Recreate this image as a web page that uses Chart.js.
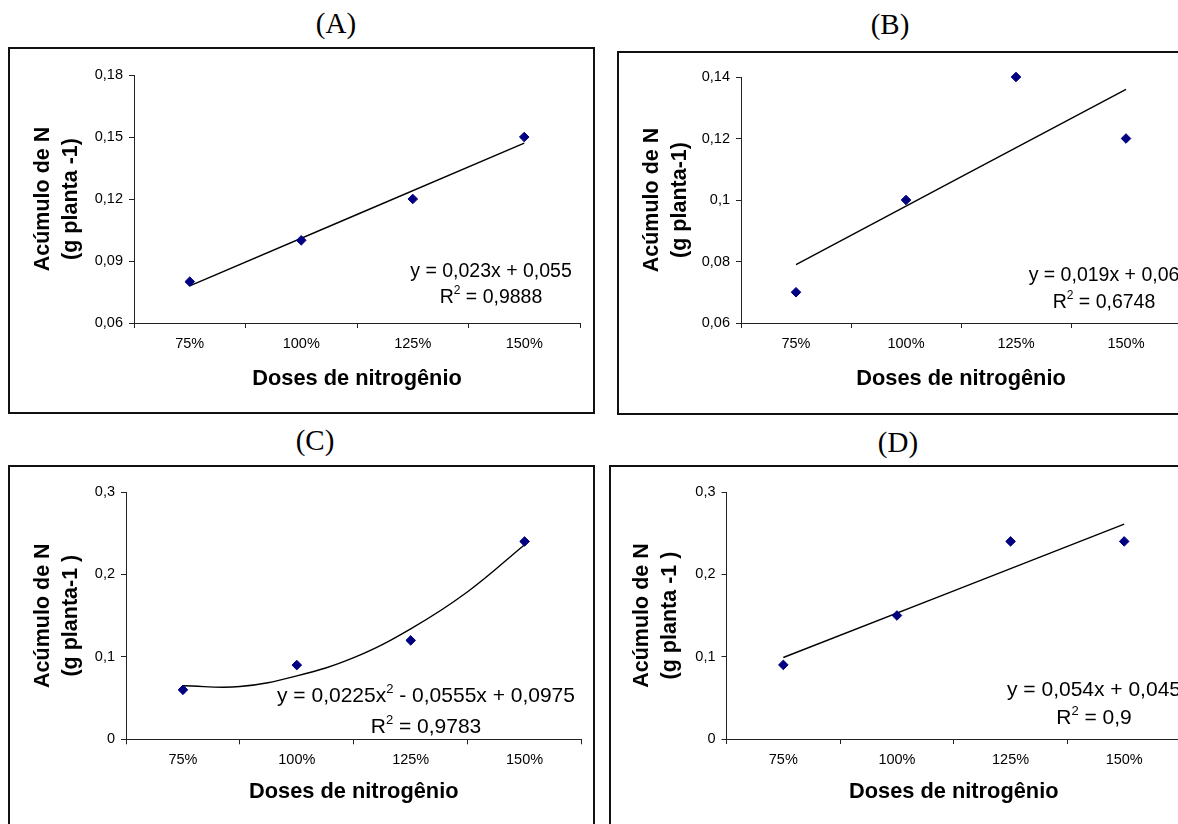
<!DOCTYPE html>
<html>
<head>
<meta charset="utf-8">
<script src="https://cdn.jsdelivr.net/npm/chart.js@4.4.1/dist/chart.umd.min.js"></script>
<style>
  body { margin: 0; width: 1178px; height: 824px; overflow: hidden; background: #fff; position: relative; }
  .frame { position: absolute; border: 2px solid #111; box-sizing: border-box; }
  .plot { position: absolute; }
  .label { position: absolute; width: 200px; text-align: center; font: 29px/29px "Liberation Serif", "Times New Roman", serif; color: #000; }
</style>
</head>
<body>

<div class="label" style="left:236px; top:9px;">(A)</div>
<div class="label" style="left:790px; top:10px;">(B)</div>
<div class="label" style="left:215px; top:426px;">(C)</div>
<div class="label" style="left:798px; top:428px;">(D)</div>

<div class="frame" style="left:8px; top:47px; width:587px; height:367px;"></div>
<div class="frame" style="left:617px; top:51px; width:600px; height:364px;"></div>
<div class="frame" style="left:8px; top:465px; width:587px; height:400px;"></div>
<div class="frame" style="left:609px; top:465px; width:600px; height:400px;"></div>

<div class="plot" style="left:8px; top:47px; width:586px; height:366px;"><canvas id="chartA"></canvas></div>
<div class="plot" style="left:617px; top:51px; width:580px; height:363px;"><canvas id="chartB"></canvas></div>
<div class="plot" style="left:8px; top:465px; width:586px; height:360px;"><canvas id="chartC"></canvas></div>
<div class="plot" style="left:609px; top:465px; width:586px; height:360px;"><canvas id="chartD"></canvas></div>

<script>
// Acúmulo de N por dose de nitrogênio - quatro painéis (A-D)
const doses = ['75%', '100%', '125%', '150%'];

const valuesA = [0.08, 0.10, 0.12, 0.15];
const valuesB = [0.07, 0.10, 0.14, 0.12];
const valuesC = [0.06, 0.09, 0.12, 0.24];
const valuesD = [0.09, 0.15, 0.24, 0.24];

// linhas de tendência (posição da categoria 1..4)
const trendXLinear = [1, 4];
const trendA = [0.078, 0.147];
const trendB = [0.079, 0.136];
const trendXC = [1, 1.5, 2, 2.5, 3, 3.5, 4];
const trendC = [0.065, 0.064, 0.077, 0.099, 0.134, 0.179, 0.236];
const trendD = [0.099, 0.261];

const yTicksA = ['0,06', '0,09', '0,12', '0,15', '0,18'];
const yTicksB = ['0,06', '0,08', '0,1', '0,12', '0,14'];
const yTicksC = ['0', '0,1', '0,2', '0,3'];
const yTicksD = ['0', '0,1', '0,2', '0,3'];

const yTitleA = ['Acúmulo de N', '(g planta -1)'];
const yTitleB = ['Acúmulo de N', '(g planta-1)'];
const yTitleC = ['Acúmulo de N', '(g planta-1 )'];
const yTitleD = ['Acúmulo de N', '(g planta -1 )'];
const xTitle = 'Doses de nitrogênio';

const equationA = ['y = 0,023x + 0,055', 'R^2 = 0,9888'];
const equationB = ['y = 0,019x + 0,06', 'R^2 = 0,6748'];
const equationC = ['y = 0,0225x^2 - 0,0555x + 0,0975', 'R^2 = 0,9783'];
const equationD = ['y = 0,054x + 0,045', 'R^2 = 0,9'];

const FONT = '"Liberation Sans", Arial, Helvetica, sans-serif';
Chart.defaults.font.family = FONT;
Chart.defaults.color = '#000';

const toNum = s => parseFloat(s.replace(',', '.'));

// text of the trendline equation, with ^2 as superscript
const equationPlugin = {
  id: 'equation',
  afterDraw(chart, args, opts) {
    const ctx = chart.ctx;
    const size = opts.size;
    const normal = size + 'px ' + FONT;
    const small = Math.round(size * 0.6) + 'px ' + FONT;
    ctx.save();
    ctx.fillStyle = '#000';
    ctx.textBaseline = 'alphabetic';
    ctx.textAlign = 'left';
    opts.lines.forEach((line, i) => {
      const parts = line.split(/\^(\d)/);
      let total = 0;
      parts.forEach((p, k) => {
        ctx.font = k % 2 ? small : normal;
        total += ctx.measureText(p).width;
      });
      let x = opts.cx - total / 2;
      const y = opts.ys[i];
      parts.forEach((p, k) => {
        ctx.font = k % 2 ? small : normal;
        ctx.fillText(p, x, k % 2 ? y - size * 0.45 : y);
        x += ctx.measureText(p).width;
      });
    });
    ctx.restore();
  }
};

function makeChart(id, values, trendX, trendY, yTicks, yTitle, equation, lay) {
  const yVals = yTicks.map(toNum);
  const xTickVals = [0.5, 1, 1.5, 2, 2.5, 3, 3.5, 4, 4.5];

  new Chart(document.getElementById(id), {
    type: 'scatter',
    data: {
      datasets: [{
        data: values.map((v, i) => ({ x: i + 1, y: v })),
        pointStyle: 'rectRot',
        pointRadius: 4.8,
        backgroundColor: '#000080',
        borderColor: '#000080',
        borderWidth: 1,
        clip: false
      }, {
        data: trendX.map((x, i) => ({ x: x, y: trendY[i] })),
        showLine: true,
        pointRadius: 0,
        borderColor: '#000',
        borderWidth: 1.4,
        tension: 0.4,
        fill: false
      }]
    },
    options: {
      responsive: true,
      maintainAspectRatio: false,
      animation: false,
      layout: { padding: { left: 0, top: lay.top, right: lay.right, bottom: 0 } },
      plugins: {
        legend: { display: false },
        tooltip: { enabled: false },
        equation: { lines: equation, cx: lay.eqX, ys: lay.eqY, size: lay.eqSize }
      },
      scales: {
        x: {
          type: 'linear',
          min: 0.5,
          max: 4.5,
          afterBuildTicks: scale => { scale.ticks = xTickVals.map(v => ({ value: v })); },
          afterFit: scale => { scale.height = lay.xh; },
          ticks: {
            autoSkip: false,
            maxRotation: 0,
            padding: 7,
            font: { size: 14.5 },
            callback: v => Number.isInteger(v) ? doses[v - 1] : ''
          },
          grid: {
            drawOnChartArea: false,
            tickLength: 5,
            color: c => (c.tick && !Number.isInteger(c.tick.value)) ? '#222' : 'rgba(0,0,0,0)'
          },
          border: { display: true, color: '#222', width: 1 },
          title: {
            display: true,
            text: xTitle,
            font: { size: 21.8, weight: 'bold', lineHeight: 1.2 },
            padding: { top: 0, bottom: lay.xtPad }
          }
        },
        y: {
          min: yVals[0],
          max: yVals[yVals.length - 1],
          afterBuildTicks: scale => { scale.ticks = yVals.map(v => ({ value: v })); },
          afterFit: scale => { scale.width = lay.yw; },
          ticks: {
            padding: 6,
            font: { size: 14.5 },
            callback: (v, i) => yTicks[i]
          },
          grid: { drawOnChartArea: false, tickLength: 5, color: '#222' },
          border: { display: true, color: '#222', width: 1 },
          title: {
            display: true,
            text: yTitle,
            font: { size: 21.5, weight: 'bold', lineHeight: 1.3 },
            padding: { top: lay.ytPad, bottom: 0 }
          }
        }
      }
    },
    plugins: [equationPlugin]
  });
}

makeChart('chartA', valuesA, trendXLinear, trendA, yTicksA, yTitleA, equationA,
  { yw: 126, top: 28, right: 14, xh: 90, xtPad: 20.7, ytPad: 21.5, eqX: 483, eqY: [230, 256], eqSize: 19.5 });
makeChart('chartB', valuesB, trendXLinear, trendB, yTicksB, yTitleB, equationB,
  { yw: 124, top: 26, right: 16, xh: 91, xtPad: 21.7, ytPad: 21.2, eqX: 487, eqY: [230, 257], eqSize: 19.5 });
makeChart('chartC', valuesC, trendXC, trendC, yTicksC, yTitleC, equationC,
  { yw: 118, top: 27, right: 12.5, xh: 85.7, xtPad: 19.7, ytPad: 21.5, eqX: 418, eqY: [237, 268], eqSize: 21 });
makeChart('chartD', valuesD, trendXLinear, trendD, yTicksD, yTitleD, equationD,
  { yw: 117.5, top: 27, right: 14, xh: 86, xtPad: 19.7, ytPad: 19.5, eqX: 485, eqY: [231, 259], eqSize: 21 });
</script>
</body>
</html>
